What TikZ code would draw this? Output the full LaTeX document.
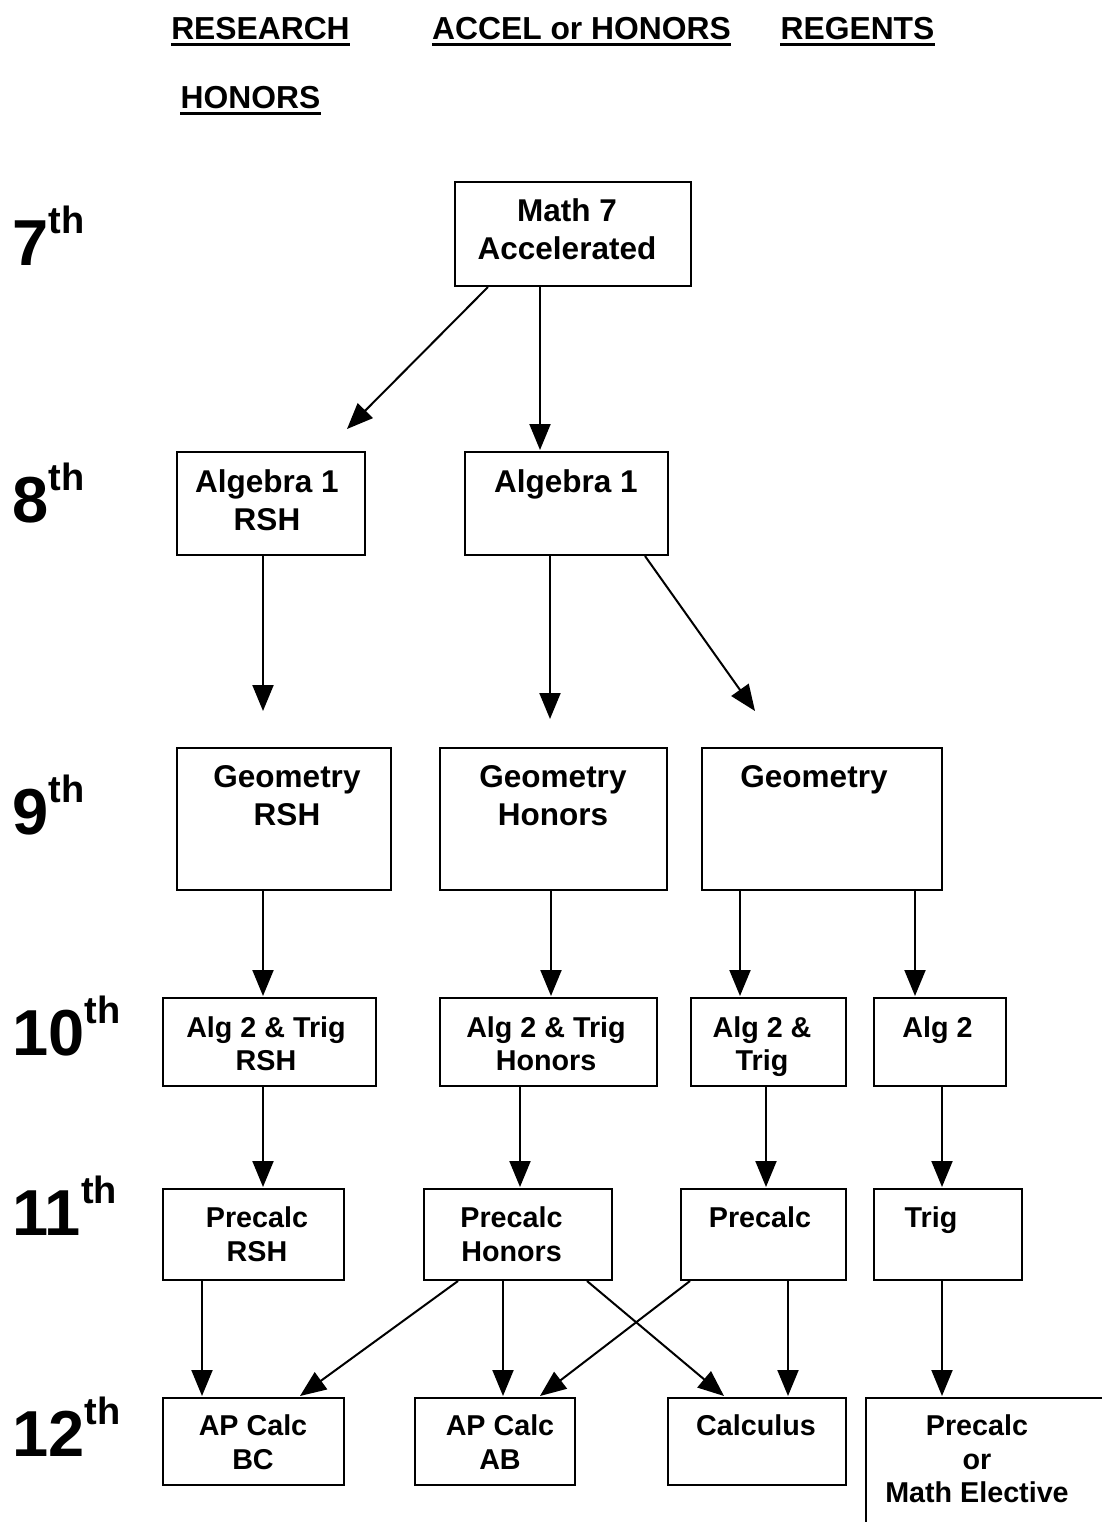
\documentclass[tikz,border=0pt]{standalone}
\usepackage{fontspec}
\setmainfont{Liberation Sans}
\usetikzlibrary{arrows.meta,calc}

\begin{document}
\begin{tikzpicture}[x=0.5pt, y=-0.5pt,
    scatola/.style={draw, line width=1pt, inner sep=0pt},
    testo/.style={align=center, anchor=base, inner sep=0pt, font=\bfseries\fontsize{15.75}{19}\selectfont},
    testop/.style={testo, font=\bfseries\fontsize{14.35}{16.75}\selectfont},
    titolo/.style={anchor=base, inner sep=0pt, font=\bfseries\fontsize{15.9}{19}\selectfont},
    anno/.style={anchor=base west, inner sep=0pt, font=\bfseries\fontsize{32.5}{32.5}\selectfont},
    freccia/.style={-{Triangle[length=13pt,width=10.5pt]}, line width=1pt}]

    \useasboundingbox (0,0) rectangle (1102,1522);

    % Intestazioni
    \node[titolo] (hres) at (260.5,39) {RESEARCH};
    \node[titolo] (hacc) at (581.5,39) {ACCEL or HONORS};
    \node[titolo] (hreg) at (857.5,39) {REGENTS};
    \node[titolo] (hhon) at (250.5,108) {HONORS};
    \foreach \h in {hres,hacc,hreg,hhon}
        \draw[line width=1.5pt] ($(\h.base west)+(0,5)$) -- ($(\h.base east)+(0,5)$);

    % Anni
    \node[anno] (g7) at (12,265) {7\raisebox{15.75pt}{\fontsize{19}{19}\selectfont th}};
    \node[anno] (g8) at (12,522) {8\raisebox{15.75pt}{\fontsize{19}{19}\selectfont th}};
    \node[anno] (g9) at (12,834) {9\raisebox{15.75pt}{\fontsize{19}{19}\selectfont th}};
    \node[anno] (g10) at (12,1055) {10\raisebox{15.75pt}{\fontsize{19}{19}\selectfont th}};
    \node[anno] (g11) at (12,1235) {11\raisebox{15.75pt}{\fontsize{19}{19}\selectfont th}};
    \node[anno] (g12) at (12,1456) {12\raisebox{15.75pt}{\fontsize{19}{19}\selectfont th}};

    % Caselle
    \node[scatola, minimum width=118pt, minimum height=52pt] (m7) at (573,234) {};
    \node[scatola, minimum width=94pt, minimum height=51.5pt] (a1r) at (271,503.5) {};
    \node[scatola, minimum width=101.5pt, minimum height=51.5pt] (a1) at (566.5,503.5) {};
    \node[scatola, minimum width=107pt, minimum height=71pt] (geor) at (284,819) {};
    \node[scatola, minimum width=113.5pt, minimum height=71pt] (geoh) at (553.5,819) {};
    \node[scatola, minimum width=120pt, minimum height=71pt] (geo) at (822,819) {};
    \node[scatola, minimum width=106.5pt, minimum height=44pt] (a2tr) at (269.5,1042) {};
    \node[scatola, minimum width=108.5pt, minimum height=44pt] (a2th) at (548.5,1042) {};
    \node[scatola, minimum width=77.5pt, minimum height=44pt] (a2t) at (768.5,1042) {};
    \node[scatola, minimum width=66pt, minimum height=44pt] (a2) at (940,1042) {};
    \node[scatola, minimum width=90.5pt, minimum height=45.5pt] (prer) at (253.5,1234.5) {};
    \node[scatola, minimum width=94pt, minimum height=45.5pt] (preh) at (518,1234.5) {};
    \node[scatola, minimum width=82.5pt, minimum height=45.5pt] (pre) at (763.5,1234.5) {};
    \node[scatola, minimum width=74pt, minimum height=45.5pt] (trig) at (948,1234.5) {};
    \node[scatola, minimum width=90.5pt, minimum height=43.5pt] (apbc) at (253.5,1441.5) {};
    \node[scatola, minimum width=80pt, minimum height=43.5pt] (apab) at (495,1441.5) {};
    \node[scatola, minimum width=89pt, minimum height=43.5pt] (calc) at (757,1441.5) {};
    \node[scatola, minimum width=137pt, minimum height=81pt] (pme) at (1003,1479) {};

    % Testi (base = ultima riga)
    \node[testo] (m7t) at (567,259.5) {Math 7\\Accelerated};
    \node[testo] (a1rt) at (267,530) {Algebra 1\\RSH};
    \node[testo] (a1t) at (566,492) {Algebra 1};
    \node[testo] (geort) at (287,825) {Geometry\\RSH};
    \node[testo] (geoht) at (553,825) {Geometry\\Honors};
    \node[testo] (geot) at (814,787) {Geometry};
    \node[testop] (a2trt) at (266,1070.5) {Alg 2 \& Trig\\RSH};
    \node[testop] (a2tht) at (546,1070.5) {Alg 2 \& Trig\\Honors};
    \node[testop] (a2tt) at (762,1070.5) {Alg 2 \&\\Trig};
    \node[testop] (a2t2) at (937.5,1037) {Alg 2};
    \node[testop] (prert) at (257,1261) {Precalc\\RSH};
    \node[testop] (preht) at (511.5,1261) {Precalc\\Honors};
    \node[testop] (pret) at (760,1227.5) {Precalc};
    \node[testop] (trigt) at (931,1227.5) {Trig};
    \node[testop] (apbct) at (253,1469) {AP Calc\\BC};
    \node[testop] (apabt) at (500,1469) {AP Calc\\AB};
    \node[testop] (calct) at (756,1435.5) {Calculus};
    \node[testop] (pmet) at (977,1502.5) {Precalc\\or\\Math Elective};

    % Frecce
    \draw[freccia] ($(m7.south)+(-85,0)$) -- ($(a1r.north)+(76,-22)$);
    \draw[freccia] ($(m7.south)+(-33,0)$) -- ($(a1.north)+(-26.5,-1)$);
    \draw[freccia] ($(a1r.south)+(-8,0)$) -- ($(geor.north)+(-21,-36)$);
    \draw[freccia] ($(a1.south)+(-16.5,0)$) -- ($(geoh.north)+(-3.5,-28)$);
    \draw[freccia] ($(a1.south)+(78.5,0)$) -- ($(geo.north)+(-67,-36)$);
    \draw[freccia] ($(geor.south)+(-21,0)$) -- ($(a2tr.north)+(-6.5,-1)$);
    \draw[freccia] ($(geoh.south)+(-2.5,0)$) -- ($(a2th.north)+(2.5,-1)$);
    \draw[freccia] ($(geo.south)+(-82,0)$) -- ($(a2t.north)+(-28.5,-1)$);
    \draw[freccia] ($(geo.south)+(93,0)$) -- ($(a2.north)+(-25,-1)$);
    \draw[freccia] ($(a2tr.south)+(-6.5,0)$) -- ($(prer.north)+(9.5,-1)$);
    \draw[freccia] ($(a2th.south)+(-28.5,0)$) -- ($(preh.north)+(2,-1)$);
    \draw[freccia] ($(a2t.south)+(-2.5,0)$) -- ($(pre.north)+(2.5,-1)$);
    \draw[freccia] ($(a2.south)+(2,0)$) -- ($(trig.north)+(-6,-1)$);
    \draw[freccia] ($(prer.south)+(-51.5,0)$) -- ($(apbc.north)+(-51.5,-1)$);
    \draw[freccia] ($(preh.south)+(-60,0)$) -- ($(apbc.north)+(46.5,-1)$);
    \draw[freccia] ($(preh.south)+(-15,0)$) -- ($(apab.north)+(8,-1)$);
    \draw[freccia] ($(preh.south)+(69,0)$) -- ($(calc.north)+(-33,-1)$);
    \draw[freccia] ($(pre.south)+(-73.5,0)$) -- ($(apab.north)+(45,-1)$);
    \draw[freccia] ($(pre.south)+(24.5,0)$) -- ($(calc.north)+(31,-1)$);
    \draw[freccia] ($(trig.south)+(-6,0)$) -- ($(pme.north)+(-61,-1)$);
\end{tikzpicture}
\end{document}
